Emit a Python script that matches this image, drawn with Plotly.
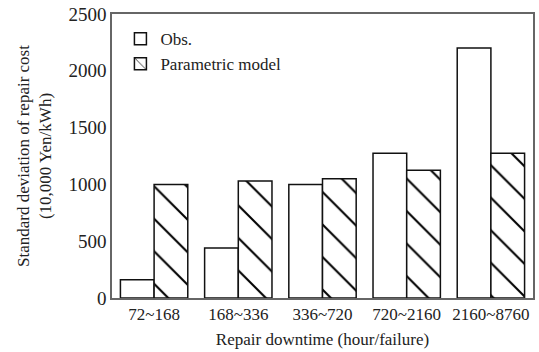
import plotly.graph_objects as go

categories = ["72~168", "168~336", "336~720", "720~2160", "2160~8760"]
obs = [160, 440, 1000, 1275, 2200]
param = [1000, 1030, 1050, 1125, 1275]
y_ticks = [0, 500, 1000, 1500, 2000, 2500]

font_family = "Liberation Serif, Times New Roman, serif"

fig = go.Figure()
fig.add_trace(go.Bar(
    x=categories, y=obs, name="Obs.",
    marker=dict(color="white", line=dict(color="#111111", width=1.5)),
))
fig.add_trace(go.Bar(
    x=categories, y=param, name="Parametric model",
    marker=dict(color="white", line=dict(color="#111111", width=1.5),
                pattern=dict(shape="\\", fgcolor="#000000", bgcolor="white",
                             fgopacity=1, size=23, solidity=0.09,
                             fillmode="overlay")),
))

fig.update_layout(
    width=539, height=352,
    margin=dict(l=112, r=4, t=14, b=54),
    paper_bgcolor="white", plot_bgcolor="white",
    font=dict(family=font_family, size=17, color="#222222"),
    barmode="group", bargap=0.2, bargroupgap=0,
    showlegend=True,
    legend=dict(x=0.02, y=0.975, xanchor="left", yanchor="top",
                bgcolor="rgba(0,0,0,0)", font=dict(size=17),
                tracegroupgap=6, itemwidth=30),
    xaxis=dict(
        showline=True, linecolor="#666666", linewidth=1.5, mirror=True,
        ticks="", tickfont=dict(size=17),
        title=dict(text="Repair downtime (hour/failure)", font=dict(size=17), standoff=10),
    ),
    yaxis=dict(
        range=[0, 2500], tickvals=y_ticks,
        showline=True, linecolor="#666666", linewidth=1.5, mirror=True,
        showgrid=False, zeroline=False, ticks="", tickfont=dict(size=19),
        title=dict(text="Standard deviation of repair cost<br>(10,000 Yen/kWh)",
                   font=dict(size=17), standoff=12),
    ),
)

fig.write_html("out.html")
